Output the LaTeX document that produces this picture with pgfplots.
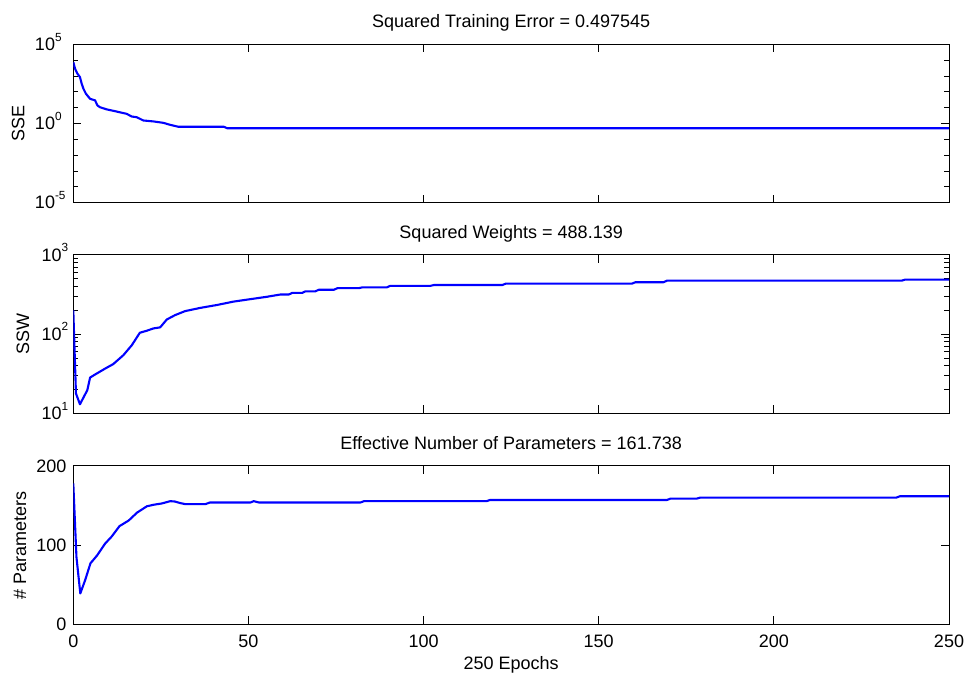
\documentclass[border=0pt]{standalone}
\usepackage{fontspec}
\setmainfont{Liberation Sans}
\usepackage{pgfplots}
\pgfplotsset{compat=1.18}
\newcommand\ex[1]{10\raisebox{9.5bp}{\fontsize{11.8bp}{12bp}\selectfont #1}}
\begin{document}
\fontsize{18bp}{21bp}\selectfont
\begin{tikzpicture}[font=\fontsize{18bp}{21bp}\selectfont]
\pgfplotsset{
  mystyle/.style={
    scale only axis, width=875.7bp, height=158.4bp,
    anchor=south west,
    xmin=0, xmax=250, xtick={0,50,...,250},
    axis line style={black, line width=0.9bp},
    tick align=inside,
    major tick length=8bp, minor tick length=5bp,
    every tick/.style={black, line width=0.8bp},
    /pgf/number format/assume math mode=true,
    tick label style={font=\fontsize{18bp}{21bp}\selectfont},
    xticklabel style={anchor=base, inner sep=0pt, yshift=-22.7bp},
    every axis title/.style={at={(axis description cs:0.5,1)}, anchor=base, yshift=16.3bp},
    every axis x label/.style={at={(axis description cs:0.5,0)}, anchor=base, yshift=-44.7bp},
    every axis y label/.style={at={(axis description cs:0,0.5)}, rotate=90, anchor=center},
  },
  myline/.style={color={rgb,255:red,0;green,0;blue,255}, line width=2.1bp, line join=round},
}
% ---------- top: SSE ----------
\begin{axis}[mystyle, at={(0,421.6bp)},
  ymode=log, ymin=1e-5, ymax=1e5,
  ytick={1e-5,1,1e5}, yticklabels={\ex{-5},\ex{0},\ex{5}},
  minor ytick={1e-4,1e-3,1e-2,1e-1,1e1,1e2,1e3,1e4},
  yticklabel style={anchor=base west, inner sep=0pt, xshift=-38.5bp, yshift=-6.3bp},
  xticklabels={},
  title={Squared Training Error = 0.497545},
  ylabel={SSE}, ylabel style={yshift=55bp},
]
\addplot[myline] coordinates {
(0,7586) (0.5,2884) (1.1,1500) (1.9,850) (2.4,324) (2.9,155) (3.6,76) (4.8,36)
(6.2,29) (6.9,13.8) (7.6,10.7) (9.5,7.8) (11.9,6.0) (13.8,4.8) (15.2,4.1)
(16.7,2.75) (18.1,2.5) (20,1.55) (22.9,1.35) (25.7,1.1) (27.6,0.83) (30,0.62)
(43,0.62) (44,0.4975) (250,0.4975)
};
\end{axis}
% ---------- middle: SSW ----------
\begin{axis}[mystyle, at={(0,211bp)},
  ymode=log, ymin=10, ymax=1000,
  ytick={10,100,1000}, yticklabels={\ex{1},\ex{2},\ex{3}},
  minor ytick={20,30,40,50,60,70,80,90,200,300,400,500,600,700,800,900},
  yticklabel style={anchor=base west, inner sep=0pt, xshift=-31.9bp, yshift=-6.3bp},
  xticklabels={},
  title={Squared Weights = 488.139},
  ylabel={SSW}, ylabel style={yshift=50.3bp},
]
\addplot[myline] coordinates {
(0,200) (0.76,17.8) (1.9,13.0) (4.0,19.6) (4.8,28.3) (6.7,31.8) (9.1,36.7)
(11.4,41.8) (14.3,54.2) (16.7,72.4) (19.0,104) (20.9,110) (22.9,118) (24.8,121.6)
(26.7,153) (29.1,174) (31.9,195) (36.2,214) (41,233) (45.7,257) (50.5,276)
(55.3,296) (59.1,316) (61.5,316) (62.5,331) (65.3,331) (66.3,347) (69.1,347)
(70.1,363) (74.4,363) (75.4,380) (81.5,380) (82.5,389) (89.5,389) (90.5,407)
(102,407) (103,417) (122.5,417) (123.5,434) (159.5,434) (160.5,452) (168.5,452)
(169.5,473) (236.5,473) (237.5,488) (250,488)
};
\end{axis}
% ---------- bottom: # parameters ----------
\begin{axis}[mystyle, at={(0,0)},
  ymin=0, ymax=200, ytick={0,100,200},
  yticklabel style={anchor=east, inner sep=0pt, xshift=-6.6bp},
  title={Effective Number of Parameters = 161.738},
  xlabel={250 Epochs},
  ylabel={\# Parameters}, ylabel style={yshift=53.3bp},
]
\addplot[myline] coordinates {
(0,177.8) (0.9,85) (2,39) (3.4,56) (4.9,77) (6.8,87) (9.1,102) (11,111)
(13.2,124) (15.8,131) (18.2,141) (21,149) (23,151) (25.3,152.6) (27.7,155.5)
(29,155) (30.6,153) (32,151.7) (37.7,151.7) (39,153.8) (50.6,153.8) (51.5,155.5)
(53,153.8) (82,153.8) (83,155.5) (118,155.5) (119,157) (169.5,157) (170.5,158.7)
(178,158.7) (179,160) (235,160) (236,161.7) (250,161.7)
};
\end{axis}
\pgfresetboundingbox
\useasboundingbox (-73.3bp,-50.7bp) rectangle (893.7bp,624.3bp);
\end{tikzpicture}
\end{document}
